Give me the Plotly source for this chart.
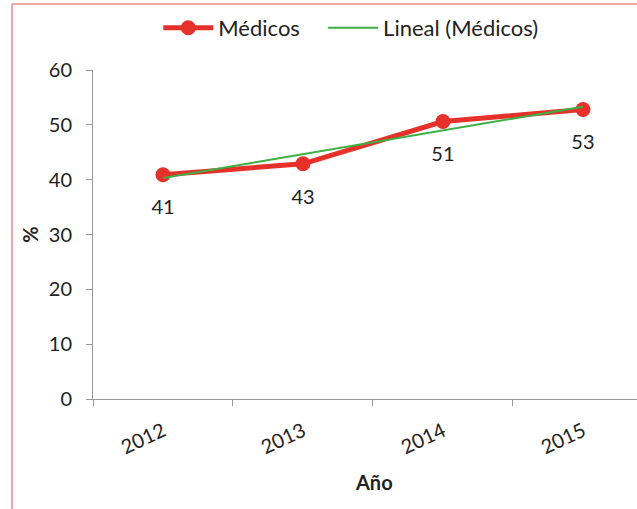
import numpy as np
import plotly.graph_objects as go

years = ["2012", "2013", "2014", "2015"]
medicos = [40.9, 42.9, 50.6, 52.8]
y_ticks = [0, 10, 20, 30, 40, 50, 60]

xi = np.arange(len(years))
slope, intercept = np.polyfit(xi, medicos, 1)
trend = slope * xi + intercept

FONT = "Lato, 'Open Sans', sans-serif"
RED = "#e6302a"
GREEN = "#3cb043"

fig = go.Figure()
fig.add_trace(go.Scatter(
    x=years, y=medicos, mode="lines+markers", name="Médicos",
    line=dict(color=RED, width=5), marker=dict(color=RED, size=15),
    legend="legend",
))
fig.add_trace(go.Scatter(
    x=years, y=trend, mode="lines", name="Lineal (Médicos)",
    line=dict(color=GREEN, width=2), legend="legend2",
))
# data labels below the points
fig.add_trace(go.Scatter(
    x=years, y=medicos, mode="markers+text", showlegend=False, hoverinfo="skip",
    text=[f"{v:.0f}" for v in medicos], textposition="bottom center",
    textfont=dict(size=20, color="#222", family=FONT),
    marker=dict(size=38, opacity=0),
))

fig.add_shape(type="line", xref="paper", yref="paper",
              x0=-0.149, x1=-0.149, y0=-0.5, y1=1.2006,
              line=dict(color="#f2a3a3", width=2))
fig.add_shape(type="line", xref="paper", yref="paper",
              x0=-0.149, x1=1.1, y0=1.2006, y1=1.2006,
              line=dict(color="#f2a3a3", width=2))

fig.add_annotation(text="<b>Año</b>", xref="paper", yref="paper",
                   x=0.5165, y=-0.252, showarrow=False,
                   xanchor="center", yanchor="middle",
                   font=dict(size=20, color="#222", family=FONT))

legend_common = dict(orientation="h", xanchor="left", y=1.128, yanchor="middle",
                     font=dict(size=22), itemwidth=50, bgcolor="rgba(0,0,0,0)")

fig.update_layout(
    width=637, height=509,
    margin=dict(l=93, r=0, t=70, b=110),
    paper_bgcolor="white", plot_bgcolor="white",
    font=dict(family=FONT, size=20, color="#222"),
    showlegend=True,
    legend=dict(x=0.12, **legend_common),
    legend2=dict(x=0.423, **legend_common),
    xaxis=dict(type="category", range=[-0.5, 3.386], tickson="boundaries",
               ticks="outside", ticklen=6, tickcolor="#999", showline=True,
               linecolor="#999", linewidth=1, showgrid=False, tickangle=-25,
               ticklabelstandoff=12, tickfont=dict(size=20)),
    yaxis=dict(range=[0, 60], tickvals=y_ticks, ticks="outside", ticklen=6,
               tickcolor="#999", showline=True, linecolor="#999", linewidth=1,
               showgrid=False, zeroline=False, ticklabelstandoff=10,
               title=dict(text="<b>%</b>", font=dict(size=20), standoff=4),
               tickfont=dict(size=20)),
)

fig.write_html("out.html")
